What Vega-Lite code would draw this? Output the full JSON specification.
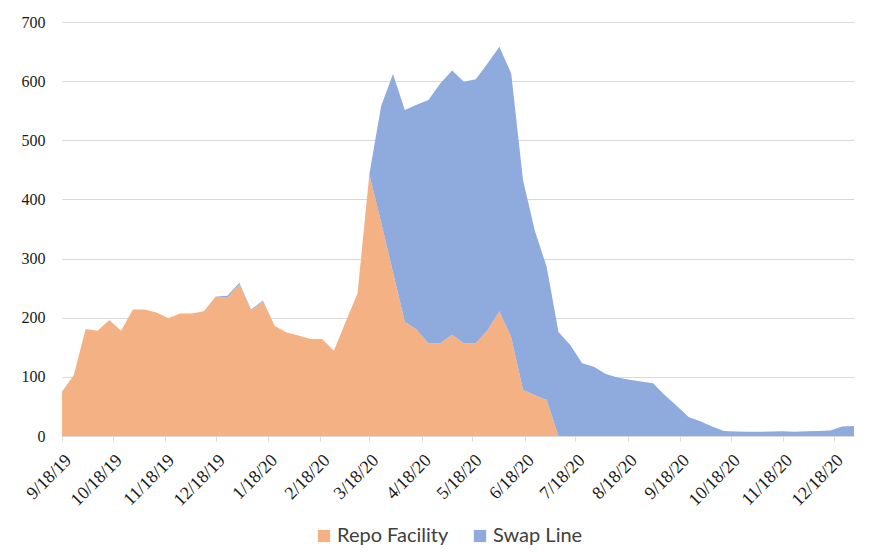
{
  "$schema": "https://vega.github.io/schema/vega-lite/v6.json",
  "width": 792,
  "height": 414,
  "autosize": "none",
  "padding": {"left": 62, "top": 22, "right": 20, "bottom": 120},
  "background": "white",
  "config": {"view": {"stroke": null}},
  "data": {"values": [
    {"d":"2019-09-18","Repo Facility":75,"Swap Line":0},
    {"d":"2019-09-25","Repo Facility":103,"Swap Line":0},
    {"d":"2019-10-02","Repo Facility":181,"Swap Line":0},
    {"d":"2019-10-09","Repo Facility":178,"Swap Line":0},
    {"d":"2019-10-16","Repo Facility":196,"Swap Line":0},
    {"d":"2019-10-23","Repo Facility":178,"Swap Line":0},
    {"d":"2019-10-30","Repo Facility":214,"Swap Line":0},
    {"d":"2019-11-06","Repo Facility":214,"Swap Line":0},
    {"d":"2019-11-13","Repo Facility":209,"Swap Line":0},
    {"d":"2019-11-20","Repo Facility":199,"Swap Line":0},
    {"d":"2019-11-27","Repo Facility":207,"Swap Line":0},
    {"d":"2019-12-04","Repo Facility":207,"Swap Line":0},
    {"d":"2019-12-11","Repo Facility":211,"Swap Line":0},
    {"d":"2019-12-18","Repo Facility":236,"Swap Line":0},
    {"d":"2019-12-25","Repo Facility":234,"Swap Line":3},
    {"d":"2020-01-01","Repo Facility":256,"Swap Line":3},
    {"d":"2020-01-08","Repo Facility":212,"Swap Line":2},
    {"d":"2020-01-15","Repo Facility":228,"Swap Line":1},
    {"d":"2020-01-22","Repo Facility":186,"Swap Line":0},
    {"d":"2020-01-29","Repo Facility":175,"Swap Line":0},
    {"d":"2020-02-05","Repo Facility":170,"Swap Line":0},
    {"d":"2020-02-12","Repo Facility":164,"Swap Line":0},
    {"d":"2020-02-19","Repo Facility":164,"Swap Line":0},
    {"d":"2020-02-26","Repo Facility":144,"Swap Line":0},
    {"d":"2020-03-04","Repo Facility":193,"Swap Line":0},
    {"d":"2020-03-11","Repo Facility":241,"Swap Line":0},
    {"d":"2020-03-18","Repo Facility":442,"Swap Line":0.4},
    {"d":"2020-03-25","Repo Facility":361,"Swap Line":197},
    {"d":"2020-04-01","Repo Facility":277,"Swap Line":335},
    {"d":"2020-04-08","Repo Facility":193,"Swap Line":358},
    {"d":"2020-04-15","Repo Facility":180,"Swap Line":380},
    {"d":"2020-04-22","Repo Facility":157,"Swap Line":411},
    {"d":"2020-04-29","Repo Facility":157,"Swap Line":439},
    {"d":"2020-05-06","Repo Facility":171,"Swap Line":447},
    {"d":"2020-05-13","Repo Facility":157,"Swap Line":442},
    {"d":"2020-05-20","Repo Facility":157,"Swap Line":446},
    {"d":"2020-05-27","Repo Facility":179,"Swap Line":451},
    {"d":"2020-06-03","Repo Facility":211,"Swap Line":447},
    {"d":"2020-06-10","Repo Facility":167,"Swap Line":446},
    {"d":"2020-06-17","Repo Facility":78,"Swap Line":355},
    {"d":"2020-06-24","Repo Facility":69,"Swap Line":278},
    {"d":"2020-07-01","Repo Facility":61,"Swap Line":225},
    {"d":"2020-07-08","Repo Facility":0,"Swap Line":176},
    {"d":"2020-07-15","Repo Facility":0,"Swap Line":154},
    {"d":"2020-07-22","Repo Facility":0,"Swap Line":123},
    {"d":"2020-07-29","Repo Facility":0,"Swap Line":117},
    {"d":"2020-08-05","Repo Facility":0,"Swap Line":105},
    {"d":"2020-08-12","Repo Facility":0,"Swap Line":99},
    {"d":"2020-08-19","Repo Facility":0,"Swap Line":95},
    {"d":"2020-08-26","Repo Facility":0,"Swap Line":92},
    {"d":"2020-09-02","Repo Facility":0,"Swap Line":89},
    {"d":"2020-09-09","Repo Facility":0,"Swap Line":69},
    {"d":"2020-09-16","Repo Facility":0,"Swap Line":51},
    {"d":"2020-09-23","Repo Facility":0,"Swap Line":32},
    {"d":"2020-09-30","Repo Facility":0,"Swap Line":25},
    {"d":"2020-10-07","Repo Facility":0,"Swap Line":16},
    {"d":"2020-10-14","Repo Facility":0,"Swap Line":8.5},
    {"d":"2020-10-21","Repo Facility":0,"Swap Line":7.5},
    {"d":"2020-10-28","Repo Facility":0,"Swap Line":7},
    {"d":"2020-11-04","Repo Facility":0,"Swap Line":7},
    {"d":"2020-11-11","Repo Facility":0,"Swap Line":7.5},
    {"d":"2020-11-18","Repo Facility":0,"Swap Line":8},
    {"d":"2020-11-25","Repo Facility":0,"Swap Line":7},
    {"d":"2020-12-02","Repo Facility":0,"Swap Line":8},
    {"d":"2020-12-09","Repo Facility":0,"Swap Line":8.5},
    {"d":"2020-12-16","Repo Facility":0,"Swap Line":9.5},
    {"d":"2020-12-23","Repo Facility":0,"Swap Line":16},
    {"d":"2020-12-30","Repo Facility":0,"Swap Line":17}
  ]},
  "transform": [{"fold": ["Repo Facility", "Swap Line"], "as": ["series", "value"]}],
  "mark": {"type": "area", "interpolate": "linear", "opacity": 1},
  "encoding": {
    "x": {
      "field": "d", "type": "temporal",
      "scale": {"type": "utc", "domain": [{"year":2019,"month":9,"date":18,"utc":true},{"year":2020,"month":12,"date":30,"utc":true}], "nice": false},
      "axis": {
        "title": null,
        "format": "%-m/%-d/%y",
        "values": [
          {"year":2019,"month":9,"date":18,"utc":true},
          {"year":2019,"month":10,"date":18,"utc":true},
          {"year":2019,"month":11,"date":18,"utc":true},
          {"year":2019,"month":12,"date":18,"utc":true},
          {"year":2020,"month":1,"date":18,"utc":true},
          {"year":2020,"month":2,"date":18,"utc":true},
          {"year":2020,"month":3,"date":18,"utc":true},
          {"year":2020,"month":4,"date":18,"utc":true},
          {"year":2020,"month":5,"date":18,"utc":true},
          {"year":2020,"month":6,"date":18,"utc":true},
          {"year":2020,"month":7,"date":18,"utc":true},
          {"year":2020,"month":8,"date":18,"utc":true},
          {"year":2020,"month":9,"date":18,"utc":true},
          {"year":2020,"month":10,"date":18,"utc":true},
          {"year":2020,"month":11,"date":18,"utc":true},
          {"year":2020,"month":12,"date":18,"utc":true}
        ],
        "labelAngle": -45,
        "labelFont": "Liberation Serif",
        "labelFontSize": 18,
        "labelColor": "#1a1a1a",
        "labelPadding": 10,
        "labelOverlap": false,
        "labelFlush": false,
        "grid": false,
        "domainColor": "#d9d9d9",
        "tickColor": "#d9d9d9",
        "tickSize": 5,
        "zindex": 1
      }
    },
    "y": {
      "field": "value", "type": "quantitative", "stack": "zero",
      "scale": {"domain": [0, 700], "nice": false},
      "axis": {
        "title": null,
        "values": [0,100,200,300,400,500,600,700],
        "labelFont": "Liberation Serif",
        "labelFontSize": 16,
        "labelColor": "#1a1a1a",
        "labelPadding": 17,
        "domain": false,
        "ticks": false,
        "gridColor": "#d9d9d9",
        "gridWidth": 1
      }
    },
    "color": {
      "field": "series", "type": "nominal",
      "scale": {"domain": ["Repo Facility", "Swap Line"], "range": ["#F4B183", "#8FAADC"]},
      "legend": {
        "title": null,
        "orient": "none",
        "direction": "horizontal",
        "legendX": 252,
        "legendY": 504,
        "symbolType": "square",
        "symbolSize": 150,
        "symbolStrokeWidth": 0,
        "labelFont": "Lato",
        "labelFontSize": 20,
        "labelColor": "#404040",
        "labelOffset": 3,
        "columnPadding": 21,
        "padding": 0
      }
    },
    "order": {"field": "series", "sort": "ascending"}
  }
}
